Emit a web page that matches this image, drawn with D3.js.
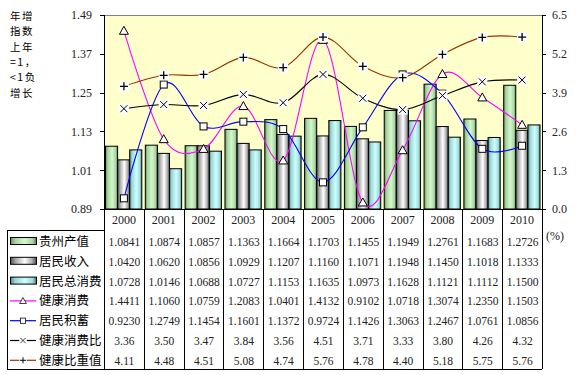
<!DOCTYPE html>
<html>
<head>
<meta charset="utf-8">
<script src="https://cdn.jsdelivr.net/npm/d3@7"></script>
<style>
    body { margin: 0; background: #fff; }
    svg { display: block; }
    .num { font-family: "Liberation Serif", "Times New Roman", serif; fill: #222; }
    .cjk { font-family: "Noto Sans CJK SC", sans-serif; fill: #000; }
    .axis path, .axis line { stroke: #000; shape-rendering: crispEdges; }
    .axis text { font-family: "Liberation Serif", serif; font-size: 12px; fill: #222; }
</style>
</head>
<body>
<div id="chart"></div>
<script>
"use strict";

var years = ["2000", "2001", "2002", "2003", "2004", "2005", "2006", "2007", "2008", "2009", "2010"];

// bars (left axis)
var gzOutput = [1.0841, 1.0874, 1.0857, 1.1363, 1.1664, 1.1703, 1.1455, 1.1949, 1.2761, 1.1683, 1.2726];
var income = [1.0420, 1.0620, 1.0856, 1.0929, 1.1207, 1.1160, 1.1071, 1.1948, 1.1450, 1.1018, 1.1333];
var consumption = [1.0728, 1.0146, 1.0688, 1.0727, 1.1153, 1.1635, 1.0973, 1.1628, 1.1121, 1.1112, 1.1500];

// lines (left axis)
var healthSpend = [1.4411, 1.1060, 1.0759, 1.2083, 1.0401, 1.4132, 0.9102, 1.0718, 1.3074, 1.2350, 1.1503];
var savings = [0.9230, 1.2749, 1.1454, 1.1601, 1.1372, 0.9724, 1.1426, 1.3063, 1.2467, 1.0761, 1.0856];

// lines (right axis, %)
var healthRatio = [3.36, 3.50, 3.47, 3.84, 3.56, 4.51, 3.71, 3.33, 3.80, 4.26, 4.32];
var healthShare = [4.11, 4.48, 4.51, 5.08, 4.74, 5.76, 4.78, 4.40, 5.18, 5.75, 5.76];

var leftTicks = [0.89, 1.01, 1.13, 1.25, 1.37, 1.49];
var rightTicks = [0, 1.3, 2.6, 3.9, 5.2, 6.5];
var yTitle = ["年增", "指数", "上年", "=1，", "<1负", "增长"];

var barSeries = [
    {name: "贵州产值", values: gzOutput, grad: "gGreen"},
    {name: "居民收入", values: income, grad: "gGray"},
    {name: "居民总消费", values: consumption, grad: "gBlue"}
];
var lineSeries = [
    {name: "健康消费", values: healthSpend, axis: "left", color: "#ff00ff", marker: "tri", fmt: ".4f"},
    {name: "居民积蓄", values: savings, axis: "left", color: "#0000ff", marker: "sq", fmt: ".4f"},
    {name: "健康消费比", values: healthRatio, axis: "right", color: "#000000", marker: "x", fmt: ".2f"},
    {name: "健康比重值", values: healthShare, axis: "right", color: "#993300", marker: "plus", fmt: ".2f"}
];

var width = 577, height = 375,
    plotL = 104, plotR = 542, plotT = 15, plotB = 209,
    tableL = 7, legendTop = 230, rowH = 19.8, tableB = 369;

var svg = d3.select("#chart").append("svg")
    .attr("width", width).attr("height", height);

var defs = svg.append("defs");
function grad(id, stops) {
    var g = defs.append("linearGradient").attr("id", id)
        .attr("x1", "0%").attr("x2", "100%").attr("y1", "0%").attr("y2", "0%");
    stops.forEach(function (s) {
        g.append("stop").attr("offset", s[0]).attr("stop-color", s[1]);
    });
}
grad("gGreen", [["0%", "#5f8a5f"], ["18%", "#a6d49e"], ["55%", "#d4f7cc"], ["85%", "#a8d6a0"], ["100%", "#4f7a4f"]]);
grad("gGray", [["0%", "#505050"], ["20%", "#a8a8a8"], ["55%", "#ffffff"], ["82%", "#b0b0b0"], ["100%", "#4a4a4a"]]);
grad("gBlue", [["0%", "#4f8585"], ["18%", "#9ed6d6"], ["55%", "#ccffff"], ["85%", "#a2dada"], ["100%", "#467a7a"]]);

var x = d3.scaleBand().domain(years).range([plotL, plotR]);
var xInner = d3.scaleBand().domain(barSeries.map(function (d) { return d.name; }))
    .range([1.5, x.bandwidth() - 2]);
var yL = d3.scaleLinear().domain([0.89, 1.49]).range([plotB, plotT]);
var yR = d3.scaleLinear().domain([0, 6.5]).range([plotB, plotT]);

// plot background
svg.append("rect")
    .attr("x", plotL).attr("y", plotT)
    .attr("width", plotR - plotL).attr("height", plotB - plotT)
    .attr("fill", "#ffffcc");
svg.append("line")
    .attr("x1", plotL).attr("x2", plotR).attr("y1", plotT + 0.5).attr("y2", plotT + 0.5)
    .attr("stroke", "#808080");

// bars
barSeries.forEach(function (s) {
    svg.append("g").selectAll("rect")
        .data(s.values).enter().append("rect")
        .attr("x", function (d, i) { return x(years[i]) + xInner(s.name); })
        .attr("y", function (d) { return yL(d); })
        .attr("width", xInner.bandwidth())
        .attr("height", function (d) { return yL(0.89) - yL(d); })
        .attr("fill", "url(#" + s.grad + ")")
        .attr("stroke", "#000").attr("stroke-width", 1);
});

// lines
function drawMarker(g, type) {
    if (type === "tri") {
        g.append("path").attr("d", "M0,-4.5L4.5,3.5L-4.5,3.5Z")
            .attr("fill", "#fff").attr("stroke", "#000");
    } else if (type === "sq") {
        g.append("rect").attr("x", -3.5).attr("y", -3.5).attr("width", 7).attr("height", 7)
            .attr("fill", "#fff").attr("stroke", "#000");
    } else if (type === "x") {
        g.append("rect").attr("x", -5).attr("y", -5).attr("width", 10).attr("height", 10).attr("fill", "#fff");
        g.append("path").attr("d", "M-3.5,-3.5L3.5,3.5M-3.5,3.5L3.5,-3.5").attr("stroke", "#000");
    } else {
        g.append("rect").attr("x", -5).attr("y", -5).attr("width", 10).attr("height", 10).attr("fill", "#fff");
        g.append("path").attr("d", "M-4,0L4,0M0,-4L0,4").attr("stroke", "#000").attr("stroke-width", 1.3);
    }
}

lineSeries.forEach(function (s) {
    var yy = s.axis === "left" ? yL : yR;
    var line = d3.line()
        .x(function (d, i) { return x(years[i]) + x.bandwidth() / 2; })
        .y(function (d) { return yy(d); })
        .curve(d3.curveCatmullRom.alpha(0));
    svg.append("path").datum(s.values)
        .attr("d", line)
        .attr("fill", "none")
        .attr("stroke", s.color)
        .attr("stroke-width", 1.1);
});
lineSeries.forEach(function (s) {
    var yy = s.axis === "left" ? yL : yR;
    s.values.forEach(function (d, i) {
        var g = svg.append("g")
            .attr("transform", "translate(" + (x(years[i]) + x.bandwidth() / 2) + "," + yy(d) + ")");
        drawMarker(g, s.marker);
    });
});

// axes
svg.append("g").attr("class", "axis")
    .attr("transform", "translate(" + plotL + ",0)")
    .call(d3.axisLeft(yL).tickValues(leftTicks).tickFormat(d3.format(".2f")).tickSize(4).tickPadding(8));
svg.append("g").attr("class", "axis")
    .attr("transform", "translate(" + plotR + ",0)")
    .call(d3.axisRight(yR).tickValues(rightTicks).tickFormat(d3.format(".1f")).tickSize(4).tickPadding(6));
svg.append("line")
    .attr("x1", plotL).attr("x2", plotR).attr("y1", plotB + 0.5).attr("y2", plotB + 0.5)
    .attr("stroke", "#000");

// y-axis title
svg.append("g").selectAll("text")
    .data(yTitle).enter().append("text")
    .attr("class", "cjk")
    .attr("x", 10)
    .attr("y", function (d, i) { return 20 + i * 15.3; })
    .style("font-size", "10.5px")
    .style("letter-spacing", "1.5px")
    .text(function (d) { return d; });

svg.append("text").attr("class", "num")
    .attr("x", 546).attr("y", 240)
    .style("font-size", "12px")
    .text("(%)");

// data table
var tbl = svg.append("g").attr("shape-rendering", "crispEdges");
years.concat(["end"]).forEach(function (y, i) {
    var xx = i < years.length ? x(y) : plotR;
    tbl.append("line")
        .attr("x1", Math.round(xx) + 0.5).attr("x2", Math.round(xx) + 0.5)
        .attr("y1", plotB).attr("y2", tableB)
        .attr("stroke", "#000");
});
tbl.append("line").attr("x1", tableL).attr("x2", plotR)
    .attr("y1", tableB + 0.5).attr("y2", tableB + 0.5).attr("stroke", "#000");
tbl.append("line").attr("x1", tableL).attr("x2", plotL)
    .attr("y1", legendTop + 0.5).attr("y2", legendTop + 0.5).attr("stroke", "#000");
tbl.append("line").attr("x1", tableL + 0.5).attr("x2", tableL + 0.5)
    .attr("y1", legendTop).attr("y2", tableB).attr("stroke", "#000");

svg.append("g").selectAll("text")
    .data(years).enter().append("text")
    .attr("class", "num")
    .attr("x", function (d) { return x(d) + x.bandwidth() / 2; })
    .attr("y", 224)
    .attr("text-anchor", "middle")
    .style("font-size", "12px")
    .text(function (d) { return d; });

var rows = barSeries.map(function (s) { return {s: s, kind: "bar", fmt: ".4f"}; })
    .concat(lineSeries.map(function (s) { return {s: s, kind: "line", fmt: s.fmt}; }));

rows.forEach(function (r, ri) {
    var cy = legendTop + 11.5 + ri * rowH;
    var g = svg.append("g");
    if (r.kind === "bar") {
        g.append("rect")
            .attr("x", 10.5).attr("y", cy - 4).attr("width", 26).attr("height", 7)
            .attr("fill", "url(#" + r.s.grad + ")")
            .attr("stroke", "#000");
    } else {
        g.append("line")
            .attr("x1", 10).attr("x2", 36).attr("y1", cy).attr("y2", cy)
            .attr("stroke", r.s.color).attr("stroke-width", 1.2);
        var m = g.append("g").attr("transform", "translate(23," + cy + ") scale(0.75)");
        drawMarker(m, r.s.marker);
    }
    g.append("text").attr("class", "cjk")
        .attr("x", 39).attr("y", cy + 4.5)
        .style("font-size", "12.5px")
        .text(r.s.name);
    g.selectAll("text.num")
        .data(r.s.values).enter().append("text")
        .attr("class", "num")
        .attr("x", function (d, i) { return x(years[i]) + x.bandwidth() / 2 + 0.5; })
        .attr("y", cy + 4.5)
        .attr("text-anchor", "middle")
        .style("font-size", "11.5px")
        .text(function (d) { return d3.format(r.fmt)(d); });
});
</script>
</body>
</html>
